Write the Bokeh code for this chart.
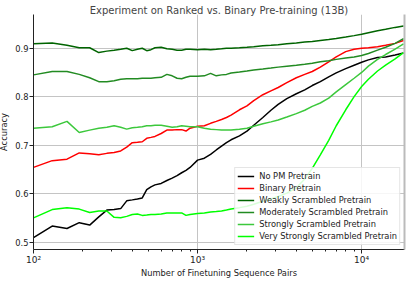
from bokeh.plotting import figure
from bokeh.models import FixedTicker, Legend, LegendItem, LinearAxis, Range1d
from bokeh.embed import file_html
from bokeh.resources import INLINE

pairs = [100, 130, 160, 190, 220, 250, 280, 310, 340, 370, 400, 430, 460, 490, 520, 550,
         600, 650, 700, 750, 800, 850, 900, 1000, 1100, 1200, 1300, 1400, 1500, 1600,
         1800, 2000, 2200, 2500, 2800, 3100, 3500, 4000, 4500, 5000, 5600, 6300, 7000,
         8000, 9000, 10000, 11000, 12500, 14000, 16000, 18000]

no_pm = [0.509, 0.533, 0.528, 0.540, 0.535, 0.552, 0.566, 0.567, 0.569, 0.585,
         0.587, 0.589, 0.591, 0.608, 0.614, 0.618, 0.621, 0.627, 0.632, 0.637,
         0.643, 0.648, 0.654, 0.669, 0.673, 0.681, 0.690, 0.698, 0.705, 0.711,
         0.719, 0.729, 0.741, 0.757, 0.772, 0.784, 0.796, 0.806, 0.814, 0.823,
         0.831, 0.841, 0.849, 0.858, 0.865, 0.871, 0.876, 0.881, 0.882, 0.886,
         0.890]

binary = [0.654, 0.668, 0.671, 0.684, 0.682, 0.680, 0.683, 0.685, 0.688, 0.696,
          0.705, 0.706, 0.707, 0.714, 0.716, 0.718, 0.724, 0.731, 0.731, 0.732,
          0.732, 0.729, 0.735, 0.739, 0.740, 0.745, 0.749, 0.753, 0.757, 0.762,
          0.773, 0.781, 0.792, 0.804, 0.812, 0.819, 0.829, 0.839, 0.846, 0.852,
          0.861, 0.872, 0.882, 0.893, 0.898, 0.900, 0.901, 0.903, 0.906, 0.910,
          0.916]

weakly = [0.909, 0.911, 0.906, 0.901, 0.901, 0.891, 0.894, 0.896, 0.898, 0.900,
          0.895, 0.898, 0.900, 0.895, 0.897, 0.901, 0.902, 0.899, 0.898, 0.896,
          0.896, 0.898, 0.898, 0.897, 0.898, 0.897, 0.898, 0.899, 0.900, 0.900,
          0.901, 0.902, 0.903, 0.905, 0.906, 0.907, 0.909, 0.911, 0.913, 0.914,
          0.916, 0.918, 0.920, 0.923, 0.926, 0.929, 0.932, 0.936, 0.939, 0.943,
          0.946]

moderately = [0.845, 0.852, 0.852, 0.846, 0.839, 0.831, 0.831, 0.833, 0.836, 0.837,
              0.837, 0.837, 0.838, 0.838, 0.838, 0.839, 0.840, 0.846, 0.843, 0.838,
              0.837, 0.840, 0.842, 0.842, 0.843, 0.848, 0.843, 0.845, 0.846, 0.849,
              0.851, 0.853, 0.855, 0.857, 0.859, 0.861, 0.863, 0.865, 0.867, 0.869,
              0.872, 0.874, 0.877, 0.880, 0.882, 0.885, 0.889, 0.896, 0.902, 0.910,
              0.920]

strongly = [0.735, 0.738, 0.749, 0.726, 0.731, 0.735, 0.737, 0.740, 0.737, 0.733,
            0.736, 0.737, 0.738, 0.740, 0.740, 0.741, 0.741, 0.739, 0.737, 0.738,
            0.740, 0.739, 0.738, 0.738, 0.735, 0.733, 0.732, 0.731, 0.731, 0.731,
            0.733, 0.735, 0.739, 0.744, 0.748, 0.752, 0.758, 0.765, 0.772, 0.780,
            0.787, 0.797, 0.810, 0.825, 0.838, 0.850, 0.863, 0.877, 0.887, 0.898,
            0.909]

very_strongly = [0.550, 0.567, 0.571, 0.568, 0.561, 0.564, 0.564, 0.551, 0.550, 0.553,
                 0.557, 0.558, 0.555, 0.556, 0.557, 0.557, 0.558, 0.560, 0.560, 0.560,
                 0.560, 0.555, 0.557, 0.559, 0.560, 0.562, 0.563, 0.564, 0.566, 0.568,
                 0.571, 0.574, 0.578, 0.584, 0.589, 0.594, 0.601, 0.612, 0.630, 0.652,
                 0.680, 0.710, 0.740, 0.773, 0.800, 0.821, 0.836, 0.853, 0.865, 0.878,
                 0.891]

series_names = ["No PM Pretrain", "Binary Pretrain", "Weakly Scrambled Pretrain",
                "Moderately Scrambled Pretrain", "Strongly Scrambled Pretrain",
                "Very Strongly Scrambled Pretrain"]
series_values = [no_pm, binary, weakly, moderately, strongly, very_strongly]
series_colors = ["#000000", "#ff0000", "#006400", "#228b22", "#3cc83c", "#00ff00"]

x_major = [100, 1000, 10000]
x_minor = [200, 300, 400, 500, 600, 700, 800, 900,
           2000, 3000, 4000, 5000, 6000, 7000, 8000, 9000]
x_labels = {100: "10²", 1000: "10³", 10000: "10⁴"}
y_major = [0.5, 0.6, 0.7, 0.8, 0.9]

FONT = "DejaVu Sans"

p = figure(width=415, height=284, x_axis_type="log",
           x_range=Range1d(100, 18250), y_range=Range1d(0.4846, 0.9696),
           output_backend="svg", toolbar_location=None,
           title="Experiment on Ranked vs. Binary Pre-training (13B)",
           min_border_left=37, min_border_right=7, min_border_top=18, min_border_bottom=30)
p.margin = (-4, 0, -20, -4)
p.outline_line_color = None
p.background_fill_color = "white"

p.title.text_font = FONT
p.title.text_font_size = "10px"
p.title.text_font_style = "normal"
p.title.align = "center"
p.title.standoff = -3

items = []
for name, vals, col in zip(series_names, series_values, series_colors):
    r = p.line(pairs, vals, line_color=col, line_width=1.5)
    items.append(LegendItem(label=name, renderers=[r]))

xt = FixedTicker(ticks=x_major, minor_ticks=x_minor)
p.xaxis.ticker = xt
p.xaxis.major_label_overrides = x_labels
p.yaxis.ticker = FixedTicker(ticks=y_major)

for ax in (p.xaxis[0], p.yaxis[0]):
    ax.axis_line_color = "#222222"
    ax.major_tick_line_color = "#222222"
    ax.minor_tick_line_color = "#222222"
    ax.major_tick_out = 4
    ax.major_tick_in = 0
    ax.minor_tick_out = 2
    ax.minor_tick_in = 0
    ax.major_label_text_font = FONT
    ax.major_label_text_font_size = "8.3px"
    ax.major_label_text_color = "#222222"
    ax.axis_label_text_font = FONT
    ax.axis_label_text_font_size = "8.3px"
    ax.axis_label_text_font_style = "normal"
    ax.axis_label_text_color = "#222222"
    ax.major_label_standoff = 1
    ax.axis_label_standoff = 3
p.yaxis.minor_tick_line_color = None
p.xaxis.major_label_text_font_size = "9px"
p.xaxis.major_label_standoff = 1
p.xaxis.axis_label_standoff = 0
p.xaxis.axis_label = "Number of Finetuning Sequence Pairs"
p.yaxis.axis_label = "Accuracy"

right = LinearAxis(ticker=FixedTicker(ticks=[]), axis_line_color="#bbbbbb", axis_line_width=2,
                   major_tick_line_color=None, minor_tick_line_color=None,
                   major_label_text_font_size="0px")
p.add_layout(right, "right")

p.xgrid.grid_line_color = "#c4c4c4"
p.ygrid.grid_line_color = "#c4c4c4"
p.xgrid.grid_line_width = 1
p.ygrid.grid_line_width = 1

legend = Legend(items=items, location="bottom_right")
legend.label_text_font = FONT
legend.label_text_font_size = "8.3px"
legend.label_text_color = "#222222"
legend.label_height = 12
legend.glyph_height = 12
legend.glyph_width = 17
legend.label_standoff = 5
legend.spacing = 0
legend.padding = 2
legend.margin = 4
legend.border_line_color = "#cccccc"
legend.border_line_width = 1
legend.background_fill_alpha = 0.85
p.add_layout(legend)

open("out.html", "w").write(file_html(p, INLINE))
